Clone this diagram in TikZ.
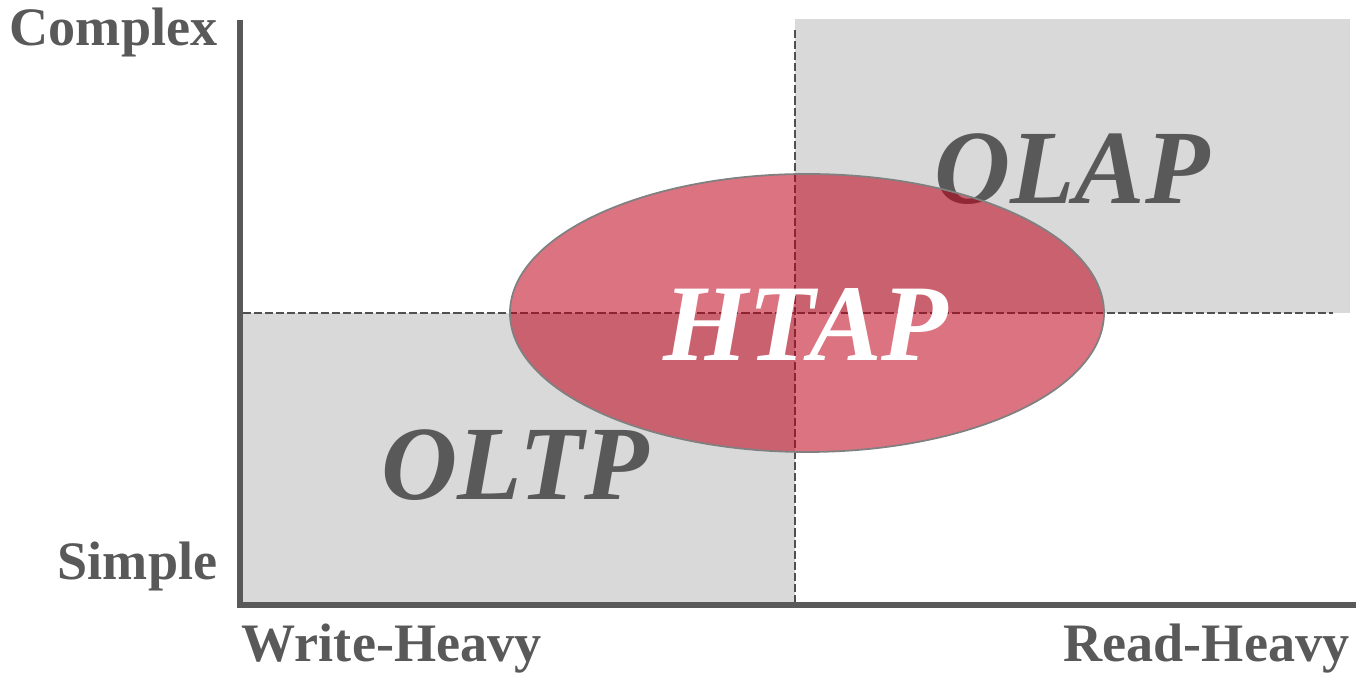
\documentclass[tikz,border=0pt]{standalone}
\usepackage{fontspec}
\setmainfont{Liberation Serif}
\usetikzlibrary{shapes,positioning}

\definecolor{axisgray}{RGB}{89,89,89}
\definecolor{boxgray}{RGB}{217,217,217}
\definecolor{htapred}{RGB}{190,0,25}

\begin{document}
\begin{tikzpicture}[
	x=0.01cm, y=-0.01cm,
		axis/.style={
			draw=axisgray,
			line width=1.7pt
		},
		quadrant/.style={
			fill=boxgray
		},
		divider/.style={
			draw=axisgray!90!black,
			line width=0.55pt,
			dash pattern=on 2.3pt off 0.85pt
		},
		axislabel/.style={
			text=axisgray,
			font=\fontsize{15.4}{18}\selectfont\bfseries,
			inner sep=0pt
		},
		workload/.style={
			text=axisgray,
			font=\fontsize{30}{34}\selectfont\bfseries\itshape,
			inner sep=0pt,
			anchor=base
		},
		hybrid/.style={
			fill=htapred,
			fill opacity=0.55,
			draw=gray,
			line width=0.5pt
		}
	]
	\useasboundingbox (0,0) rectangle (1356,674);
	% Quadrants
	\fill[quadrant] (243,313) rectangle (795,604);
	\fill[quadrant] (795,19) rectangle (1350,313);
	% Dividers
	\coordinate (midleft) at (243,313);
	\coordinate (midright) at (1333,313);
	\coordinate (midtop) at (795,30);
	\coordinate (midbottom) at (795,603);
	\draw[divider] (midleft) -- (midright);
	\draw[divider] (midtop) -- (midbottom);
	% Axes
	\coordinate (origin) at (240,605);
	\coordinate (ytop) at (240,20);
	\coordinate (xend) at (1356,605);
	\draw[axis] (ytop) -- (origin) -- (xend);
	% Axis labels
	\node[axislabel, anchor=base east] (complex) at (218,46) {Complex};
	\node[axislabel, anchor=base east] (simple) at (218,580) {Simple};
	\node[axislabel, anchor=base west] (write_heavy) at (241,662) {Write-Heavy};
	\node[axislabel, anchor=base east] (read_heavy) at (1350,662) {Read-Heavy};
	% Workloads
	\node[workload] (oltp) at (515,500) {OLTP};
	\node[workload] (olap) at (1072,204) {OLAP};
	% Hybrid
	\path[hybrid] (807,313) ellipse [x radius=297, y radius=139];
	\node[workload, text=white, font=\fontsize{31}{35}\selectfont\bfseries\itshape] (htap) at (806,361) {HTAP};
\end{tikzpicture}
\end{document}
